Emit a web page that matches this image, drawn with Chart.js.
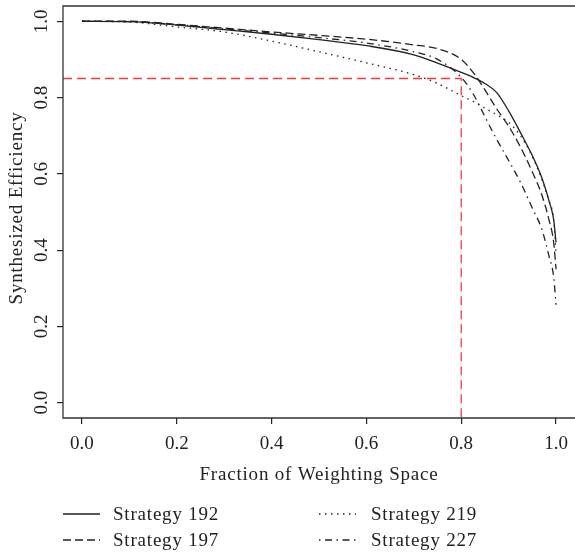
<!DOCTYPE html>
<html>
<head>
<meta charset="utf-8">
<script src="https://cdn.jsdelivr.net/npm/chart.js@4.4.1/dist/chart.umd.min.js"></script>
<style>
  html, body { margin: 0; padding: 0; background: #fff; }
  #wrap { width: 575px; height: 554px; position: relative; }
</style>
</head>
<body>
<div id="wrap"><canvas id="chart"></canvas></div>
<script>
// Values
const fraction = [0, 0.1, 0.2, 0.3, 0.4, 0.5, 0.6, 0.7, 0.75, 0.8, 0.825, 0.85, 0.875, 0.9, 0.925, 0.95, 0.97, 0.985, 0.995, 1.0];
const strategy192 = [1.0, 0.999, 0.99, 0.978, 0.966, 0.952, 0.936, 0.912, 0.89, 0.866, 0.853, 0.837, 0.813, 0.765, 0.708, 0.648, 0.59, 0.53, 0.48, 0.42];
const strategy197 = [1.0, 1.0, 0.992, 0.982, 0.972, 0.963, 0.953, 0.938, 0.928, 0.9, 0.866, 0.82, 0.77, 0.725, 0.67, 0.605, 0.545, 0.48, 0.42, 0.35];
const strategy219 = [1.0, 0.998, 0.985, 0.972, 0.948, 0.92, 0.891, 0.86, 0.837, 0.805, 0.79, 0.772, 0.755, 0.735, 0.70, 0.645, 0.585, 0.53, 0.48, 0.39];
const strategy227 = [1.0, 0.999, 0.991, 0.98, 0.969, 0.957, 0.943, 0.92, 0.9, 0.853, 0.81, 0.75, 0.69, 0.635, 0.578, 0.51, 0.455, 0.385, 0.33, 0.257];
const seriesNames = ['Strategy 192', 'Strategy 197', 'Strategy 219', 'Strategy 227'];
const xTicks = [0, 0.2, 0.4, 0.6, 0.8, 1.0];
const yTicks = [0, 0.2, 0.4, 0.6, 0.8, 1.0];
const cutoffFraction = 0.8;
const cutoffEfficiency = 0.85;

const FONT = "'Liberation Serif', 'DejaVu Serif', serif";
const INK = '#222';
const dashes = [[], [8, 4], [1.5, 4.5], [1.5, 4.5, 7, 4.5]];

function toPoints(ys) {
    return fraction.map((f, i) => ({ x: f, y: ys[i] }));
}

const allSeries = [strategy192, strategy197, strategy219, strategy227];
const datasets = allSeries.map((ys, i) => ({
    label: seriesNames[i],
    data: toPoints(ys),
    borderColor: INK,
    borderWidth: 1.3,
    borderDash: dashes[i],
    pointRadius: 0,
    fill: false,
    cubicInterpolationMode: 'monotone'
}));

// red cutoff guide: horizontal at efficiency, then down at fraction
datasets.push({
    label: 'cutoff',
    data: [{ x: -0.04, y: cutoffEfficiency }, { x: cutoffFraction, y: cutoffEfficiency }, { x: cutoffFraction, y: -0.04 }],
    borderColor: '#f03a3a',
    borderWidth: 1.3,
    borderDash: [9, 5],
    pointRadius: 0,
    fill: false,
    tension: 0
});

// frame, y labels, axis titles and legend
const decorPlugin = {
    id: 'decor',
    afterDraw(chart) {
        const { ctx, chartArea: a, scales } = chart;
        ctx.save();
        ctx.strokeStyle = '#333';
        ctx.lineWidth = 1.3;
        ctx.setLineDash([]);
        // right edge of the box falls just outside the picture
        ctx.beginPath();
        ctx.moveTo(a.right + 2, a.top);
        ctx.lineTo(a.left, a.top);
        ctx.lineTo(a.left, a.bottom);
        ctx.lineTo(a.right + 2, a.bottom);
        ctx.stroke();

        ctx.fillStyle = INK;
        ctx.font = '19px ' + FONT;
        ctx.textAlign = 'center';
        ctx.textBaseline = 'alphabetic';

        // rotated y tick labels
        yTicks.forEach(v => {
            const py = scales.y.getPixelForValue(v);
            ctx.save();
            ctx.translate(47, py);
            ctx.rotate(-Math.PI / 2);
            ctx.fillText(v.toFixed(1), 0, 0);
            ctx.restore();
        });

        // wider serif look for the words
        ctx.letterSpacing = '0.8px';

        // y title
        ctx.save();
        ctx.translate(22, (a.top + a.bottom) / 2 - 4);
        ctx.rotate(-Math.PI / 2);
        ctx.fillText('Synthesized Efficiency', 0, 0);
        ctx.restore();

        // x title
        ctx.fillText('Fraction of Weighting Space', (a.left + a.right) / 2, 480);

        // legend, two columns
        const cols = [{ lx: 63, tx: 113 }, { lx: 319, tx: 371 }];
        const rows = [514, 540];
        seriesNames.forEach((name, i) => {
            const c = cols[Math.floor(i / 2)];
            const y = rows[i % 2];
            ctx.beginPath();
            ctx.setLineDash(dashes[i]);
            ctx.strokeStyle = INK;
            ctx.moveTo(c.lx, y);
            ctx.lineTo(c.lx + 37, y);
            ctx.stroke();
            ctx.setLineDash([]);
            ctx.textAlign = 'left';
            ctx.fillText(name, c.tx, y + 6);
        });
        ctx.restore();
    }
};

new Chart(document.getElementById('chart'), {
    type: 'line',
    data: { datasets: datasets },
    options: {
        responsive: true,
        maintainAspectRatio: false,
        animation: false,
        layout: { padding: { top: 6, right: 0, left: 0, bottom: 0 } },
        plugins: {
            legend: { display: false },
            tooltip: { enabled: false }
        },
        scales: {
            x: {
                type: 'linear',
                min: -0.04,
                max: 1.04,
                afterBuildTicks: s => { s.ticks = xTicks.map(v => ({ value: v })); },
                afterFit: s => {
                    s.height = 136;
                    // keep the plot box from shrinking for the end labels
                    s.paddingLeft = 0;
                    s.paddingRight = 0;
                },
                ticks: {
                    color: INK,
                    font: { family: FONT, size: 19 },
                    padding: 9,
                    maxRotation: 0,
                    callback: v => Number(v).toFixed(1)
                },
                grid: { drawOnChartArea: false, drawTicks: true, tickLength: 6, color: INK, lineWidth: 1.2 },
                border: { display: false }
            },
            y: {
                type: 'linear',
                min: -0.04,
                max: 1.04,
                afterBuildTicks: s => { s.ticks = yTicks.map(v => ({ value: v })); },
                afterFit: s => { s.width = 63; },
                ticks: { display: false },
                grid: { drawOnChartArea: false, drawTicks: true, tickLength: 6, color: INK, lineWidth: 1.2 },
                border: { display: false }
            }
        }
    },
    plugins: [decorPlugin]
});
</script>
</body>
</html>
